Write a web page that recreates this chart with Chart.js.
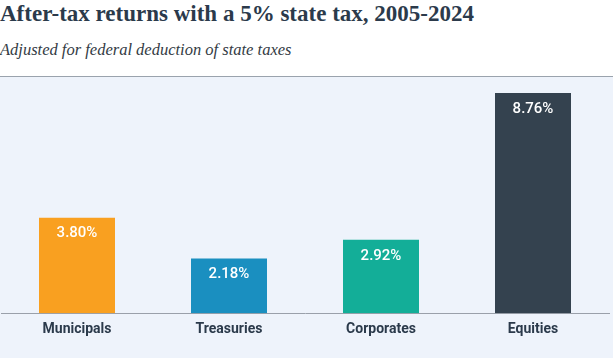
<!DOCTYPE html>
<html>
<head>
<meta charset="utf-8">
<script src="https://cdn.jsdelivr.net/npm/chart.js@4"></script>
<style>
  html, body { margin: 0; padding: 0; background: #ffffff; width: 613px; height: 358px; overflow: hidden; }
  #head { height: 76px; position: relative; }
  #title { position: absolute; left: 0; top: 1px; font: bold 23px "Liberation Serif", "DejaVu Serif", serif; color: #2b3a4b; white-space: nowrap; }
  #subtitle { position: absolute; left: 0; top: 40px; font: italic 16.5px "Liberation Serif", "DejaVu Serif", serif; color: #333b44; white-space: nowrap; }
  #plot { border-top: 1px solid #9aa3ad; background: #eef3fb; height: 281px; }
</style>
</head>
<body>
<div id="head">
  <div id="title">After-tax returns with a 5% state tax, 2005-2024</div>
  <div id="subtitle">Adjusted for federal deduction of state taxes</div>
</div>
<div id="plot"><canvas id="c" width="613" height="281"></canvas></div>
<script>
const categories = ['Municipals', 'Treasuries', 'Corporates', 'Equities'];
const returns = [3.80, 2.18, 2.92, 8.76];
const barColors = ['#f9a020', '#1a8fc0', '#13ae98', '#34424f'];

const valueLabels = {
  id: 'valueLabels',
  afterDatasetsDraw(chart) {
    const ctx = chart.ctx;
    const meta = chart.getDatasetMeta(0);
    ctx.save();
    ctx.fillStyle = '#ffffff';
    ctx.font = '500 15px Roboto, sans-serif';
    ctx.textAlign = 'center';
    ctx.textBaseline = 'middle';
    meta.data.forEach((bar, i) => {
      ctx.fillText(returns[i].toFixed(2) + '%', bar.x, bar.y + 16);
    });
    ctx.restore();
  }
};

new Chart(document.getElementById('c'), {
  type: 'bar',
  data: {
    labels: categories,
    datasets: [{
      data: returns,
      backgroundColor: barColors,
      borderWidth: 0,
      barPercentage: 0.5,
      categoryPercentage: 1
    }]
  },
  options: {
    responsive: false,
    animation: false,
    layout: { padding: { left: 1, right: 4, top: 0, bottom: 20 } },
    plugins: {
      legend: { display: false },
      tooltip: { enabled: false }
    },
    scales: {
      x: {
        grid: { display: false },
        border: { display: true, color: '#9aa0aa', width: 1 },
        ticks: {
          color: '#2b3a4b',
          padding: 0,
          font: { family: 'Roboto', size: 14, weight: 'bold' }
        }
      },
      y: {
        display: false,
        min: 0,
        max: 9.4
      }
    }
  },
  plugins: [valueLabels]
});
</script>
</body>
</html>
